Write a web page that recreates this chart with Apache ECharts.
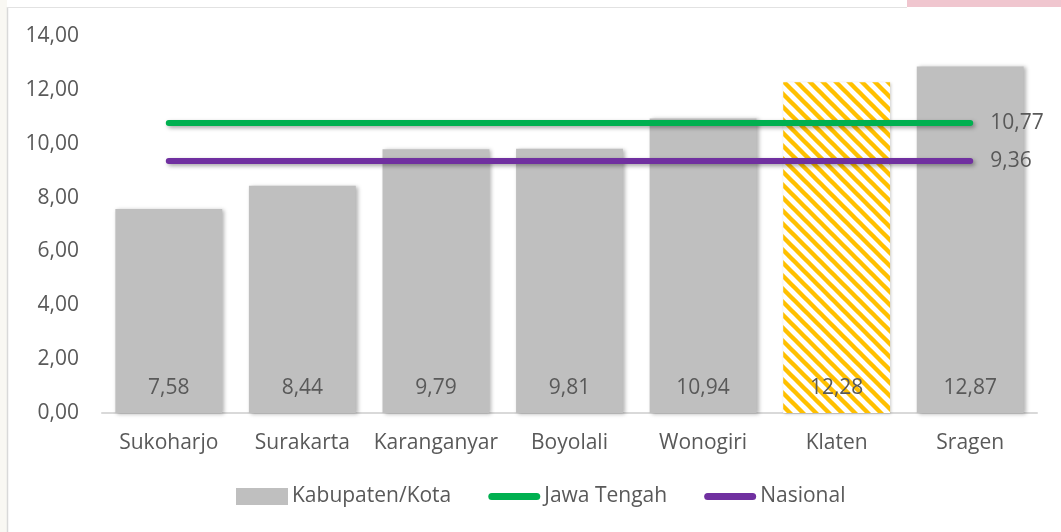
<!DOCTYPE html>
<html>
<head>
<meta charset="utf-8">
<script src="https://cdn.jsdelivr.net/npm/echarts@6/dist/echarts.min.js"></script>
<style>
html,body{margin:0;padding:0;background:#fff;}
#chart{width:1061px;height:532px;}
</style>
</head>
<body>
<div id="chart"></div>
<script>
var categories = ['Sukoharjo','Surakarta','Karanganyar','Boyolali','Wonogiri','Klaten','Sragen'];
var kabKotaValues = [7.58, 8.44, 9.79, 9.81, 10.94, 12.28, 12.87];
var jawaTengahValues = [10.77, 10.77, 10.77, 10.77, 10.77, 10.77, 10.77];
var nasionalValues = [9.36, 9.36, 9.36, 9.36, 9.36, 9.36, 9.36];
var highlightCategory = 'Klaten';

function fmt(v){ return Number(v).toFixed(2).replace('.', ','); }

// diagonal stripe pattern for highlighted bar
var s = 13;
var pc = document.createElement('canvas');
pc.width = s; pc.height = s;
var ctx = pc.getContext('2d');
ctx.fillStyle = '#ffffff';
ctx.fillRect(0,0,s,s);
ctx.strokeStyle = '#FFC000';
ctx.lineWidth = 4.4;
for (var k = -1; k <= 1; k++) {
  ctx.beginPath();
  ctx.moveTo(k*s - 2, -2);
  ctx.lineTo(k*s + s + 2, s + 2);
  ctx.stroke();
}

var barData = kabKotaValues.map(function(v, i){
  if (categories[i] === highlightCategory) {
    return {value: v, itemStyle: {color: {image: pc, repeat: 'repeat'}, shadowBlur: 3, shadowColor: 'rgba(0,0,0,0.2)', shadowOffsetX: 1, shadowOffsetY: 1}};
  }
  return v;
});

var textColor = '#595959';
var fontFam = '"Open Sans", sans-serif';
var fs = 21;
var lineIcon = 'path://M3.5,0 H48.5 A3.5,3.5 0 0 1 48.5,7 H3.5 A3.5,3.5 0 0 1 3.5,0 Z';

var chart = echarts.init(document.getElementById('chart'), null, {renderer: 'canvas'});
chart.setOption({
  backgroundColor: '#ffffff',
  animation: false,
  textStyle: {fontFamily: fontFam, color: textColor},
  graphic: [
    {type: 'rect', shape: {x: 0, y: 0, width: 7, height: 532}, style: {fill: '#F9F8F3'}},
    {type: 'rect', shape: {x: 907, y: 0, width: 154, height: 7}, style: {fill: '#F0C6CF'}},
    {type: 'line', shape: {x1: 7.5, y1: 7, x2: 7.5, y2: 532}, style: {stroke: '#D9D9D9', lineWidth: 1.5}},
    {type: 'line', shape: {x1: 7, y1: 7.5, x2: 907, y2: 7.5}, style: {stroke: '#E2E2E2', lineWidth: 1}}
  ],
  grid: {left: 102, right: 24, top: 36, bottom: 119, containLabel: false},
  legend: {
    bottom: 20,
    left: 231,
    itemGap: 37,
    itemWidth: 52,
    itemHeight: 17,
    textStyle: {fontSize: fs, color: textColor, fontFamily: fontFam, padding: [0,0,0,-1]},
    data: [
      {name: 'Kabupaten/Kota', icon: 'rect', itemStyle: {color: '#BFBFBF', shadowBlur: 0}},
      {name: 'Jawa Tengah', icon: lineIcon, itemStyle: {color: '#00B050'}},
      {name: 'Nasional', icon: lineIcon, itemStyle: {color: '#7030A0'}}
    ]
  },
  xAxis: {
    type: 'category',
    data: categories,
    axisLine: {lineStyle: {color: '#D9D9D9', width: 2}},
    axisTick: {show: false},
    axisLabel: {interval: 0, fontSize: fs, color: textColor, fontFamily: fontFam, margin: 20}
  },
  yAxis: {
    type: 'value',
    min: 0, max: 14, interval: 2,
    axisLine: {show: false},
    axisTick: {show: false},
    splitLine: {show: false},
    axisLabel: {fontSize: fs, color: textColor, fontFamily: fontFam, margin: 23, formatter: fmt}
  },
  series: [
    {
      name: 'Kabupaten/Kota',
      type: 'bar',
      data: barData,
      barCategoryGap: '20%',
      itemStyle: {color: '#BFBFBF', shadowBlur: 4, shadowColor: 'rgba(0,0,0,0.3)', shadowOffsetX: 2, shadowOffsetY: 1},
      label: {show: true, position: 'insideBottom', distance: 14, fontSize: fs, color: textColor, fontFamily: fontFam, formatter: function(p){ return fmt(p.value); }},
      z: 2
    },
    {
      name: 'Jawa Tengah',
      type: 'line',
      data: jawaTengahValues,
      symbol: 'none',
      showSymbol: false,
      lineStyle: {color: '#00B050', width: 6, cap: 'round', shadowBlur: 4, shadowColor: 'rgba(0,0,0,0.35)', shadowOffsetX: 2, shadowOffsetY: 2},
      itemStyle: {color: '#00B050'},
      endLabel: {show: true, distance: 20, fontSize: fs, color: textColor, fontFamily: fontFam, formatter: function(p){ return fmt(p.value); }},
      z: 3
    },
    {
      name: 'Nasional',
      type: 'line',
      data: nasionalValues,
      symbol: 'none',
      showSymbol: false,
      lineStyle: {color: '#7030A0', width: 6, cap: 'round', shadowBlur: 4, shadowColor: 'rgba(0,0,0,0.35)', shadowOffsetX: 2, shadowOffsetY: 2},
      itemStyle: {color: '#7030A0'},
      endLabel: {show: true, distance: 20, fontSize: fs, color: textColor, fontFamily: fontFam, formatter: function(p){ return fmt(p.value); }},
      z: 3
    }
  ]
});
</script>
</body>
</html>
